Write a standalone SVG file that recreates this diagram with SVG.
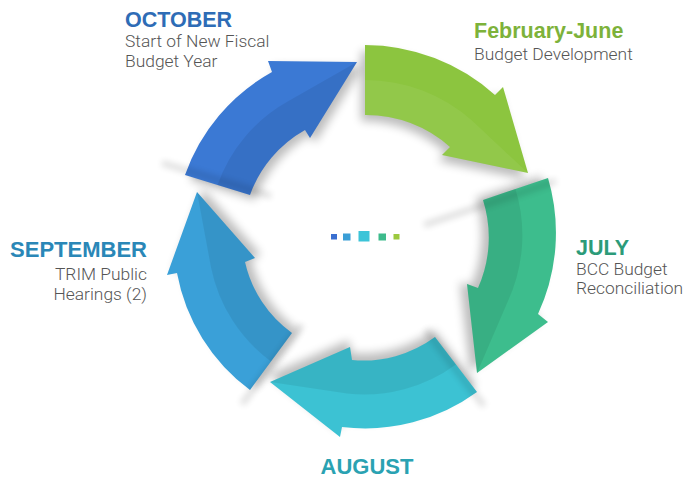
<svg xmlns="http://www.w3.org/2000/svg" width="687" height="481" viewBox="0 0 687 481">
<style>
.title{font-family:"Liberation Sans",Arial,sans-serif;font-weight:bold;font-size:21.5px}
.sub{font-family:Roboto,"Liberation Sans",sans-serif;font-weight:300;font-size:17.4px;fill:#555555}
.shade{fill:#000;opacity:0.26;filter:url(#blur)}
.fold{fill:#000;opacity:0.07}
.cut{stroke:#000;stroke-width:6;opacity:0.13;filter:url(#cblur);fill:none}
</style>
<defs>
<filter id="blur" x="-30%" y="-30%" width="160%" height="160%"><feGaussianBlur stdDeviation="5"/></filter>
<filter id="cblur" x="-30%" y="-30%" width="160%" height="160%"><feGaussianBlur stdDeviation="3"/></filter>
</defs>
<rect width="687" height="481" fill="#ffffff"/>

<g id="shadows">
<path class="shade" transform="translate(5,5)" d="M185,175 A190,190 0 0 1 272,72 L268,61 L357,62 L310,138 L305,130 A122,122 0 0 0 250,195 Z"/>
<path class="shade" transform="translate(-4,6)" d="M365,45 A196,196 0 0 1 495,95 L503,87 L528,173 L442,155 L450,147 A126,126 0 0 0 365,115 Z"/>
<path class="shade" transform="translate(-7,-2)" d="M548,178 A193,193 0 0 1 538,314 L548,322 L477,373 L467,284 L478,288 A124,124 0 0 0 483,200 Z"/>
<path class="shade" transform="translate(-1,-7)" d="M477,392 A190,190 0 0 1 342,427 L340,437 L270,382 L350,347 L352,360 A121,121 0 0 0 435,337 Z"/>
<path class="shade" transform="translate(6,-3)" d="M250,390 A188,188 0 0 1 177,273 L167,275 L197,192 L255,258 L245,262 A120,120 0 0 0 292,333 Z"/>
</g>

<g id="node-october">
<path fill="#3b79d4" d="M185,175 A190,190 0 0 1 272,72 L268,61 L357,62 L310,138 L305,130 A122,122 0 0 0 250,195 Z"/>
<path class="fold" d="M217.5,185 A155,155 0 0 1 288.5,101 L357,62 L310,138 L305,130 A122,122 0 0 0 250,195 Z"/>
<text class="title" x="125" y="27" fill="#2e6cb6">OCTOBER</text>
<text class="sub" x="125" y="46.5">Start of New Fiscal</text>
<text class="sub" x="125" y="66.5">Budget Year</text>
</g>

<g id="node-february-june">
<path fill="#8cc53f" d="M365,45 A196,196 0 0 1 495,95 L503,87 L528,173 L442,155 L450,147 A126,126 0 0 0 365,115 Z"/>
<path fill="#ffffff" opacity="0.06" d="M365,80 A160,160 0 0 1 472.5,121 L528,173 L442,155 L450,147 A126,126 0 0 0 365,115 Z"/>
<text class="title" x="474" y="37.5" fill="#7db23a">February-June</text>
<text class="sub" x="474" y="60">Budget Development</text>
</g>

<g id="node-july">
<path fill="#3dbd8d" d="M548,178 A193,193 0 0 1 538,314 L548,322 L477,373 L467,284 L478,288 A124,124 0 0 0 483,200 Z"/>
<path class="fold" d="M515.5,189 A158,158 0 0 1 508,301 L477,373 L467,284 L478,288 A124,124 0 0 0 483,200 Z"/>
<text class="title" x="576" y="255" fill="#2c9b79">JULY</text>
<text class="sub" x="576" y="274.5">BCC Budget</text>
<text class="sub" x="576" y="293.5">Reconciliation</text>
</g>

<g id="node-august">
<path fill="#3cc2d3" d="M477,392 A190,190 0 0 1 342,427 L340,437 L270,382 L350,347 L352,360 A121,121 0 0 0 435,337 Z"/>
<path class="fold" d="M456,364.5 A155,155 0 0 1 347,393.5 L270,382 L350,347 L352,360 A121,121 0 0 0 435,337 Z"/>
<text class="title" x="367" y="474" text-anchor="middle" fill="#2aa2b2" style="font-size:22px">AUGUST</text>
</g>

<g id="node-september">
<path fill="#3aa0d8" d="M250,390 A188,188 0 0 1 177,273 L167,275 L197,192 L255,258 L245,262 A120,120 0 0 0 292,333 Z"/>
<path class="fold" d="M271,361.5 A155,155 0 0 1 211,267.5 L197,192 L255,258 L245,262 A120,120 0 0 0 292,333 Z"/>
<text class="title" x="147" y="257" text-anchor="end" fill="#2a87b7" style="font-size:22px">SEPTEMBER</text>
<text class="sub" x="147" y="280" text-anchor="end">TRIM Public</text>
<text class="sub" x="147" y="300" text-anchor="end">Hearings (2)</text>
</g>

<g id="connectors">
<line class="cut" x1="162" y1="163" x2="271" y2="196"/>
<line class="cut" x1="370" y1="38" x2="370" y2="128"/>
<line class="cut" x1="556" y1="181" x2="424" y2="225"/>
<line class="cut" x1="426" y1="330" x2="484" y2="406"/>
<line class="cut" x1="302" y1="325" x2="242" y2="404"/>
</g>

<g id="center-dots">
<rect x="331" y="234" width="6" height="5.5" fill="#3a6fd0"/>
<rect x="343" y="233.5" width="7.5" height="7" fill="#3a9ed6"/>
<rect x="358.5" y="231" width="11" height="10.5" fill="#3cc4d8"/>
<rect x="378.5" y="233.5" width="7.5" height="7" fill="#3dbb8c"/>
<rect x="393.5" y="234" width="6" height="5.5" fill="#9cc93e"/>
</g>
</svg>
